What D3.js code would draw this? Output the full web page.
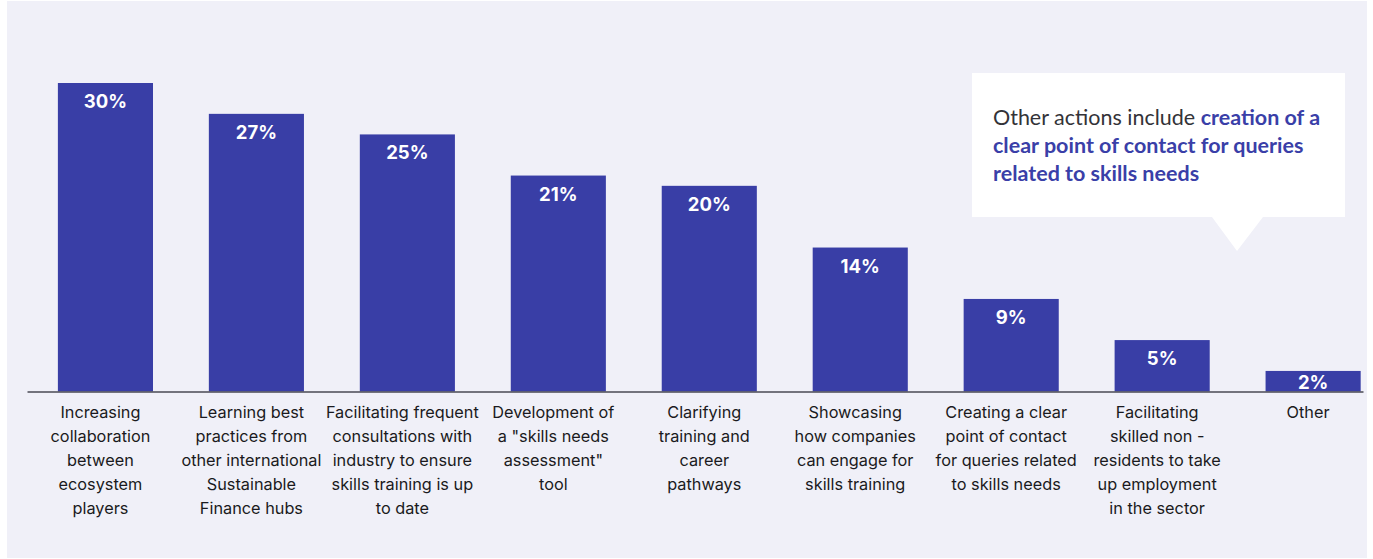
<!DOCTYPE html>
<html>
<head>
<meta charset="utf-8">
<script src="https://cdn.jsdelivr.net/npm/d3@7"></script>
<style>
  html, body { margin: 0; padding: 0; background: #ffffff; }
  svg { display: block; }
</style>
</head>
<body>
<svg id="chart" width="1373" height="559"></svg>
<script>
// Survey results: share of respondents choosing each action
const categories = [
  "Increasing\ncollaboration\nbetween\necosystem\nplayers",
  "Learning best\npractices from\nother international\nSustainable\nFinance hubs",
  "Facilitating frequent\nconsultations with\nindustry to ensure\nskills training is up\nto date",
  "Development of\na \"skills needs\nassessment\"\ntool",
  "Clarifying\ntraining and\ncareer\npathways",
  "Showcasing\nhow companies\ncan engage for\nskills training",
  "Creating a clear\npoint of contact\nfor queries related\nto skills needs",
  "Facilitating\nskilled non -\nresidents to take\nup employment\nin the sector",
  "Other"
];
const values = [30, 27, 25, 21, 20, 14, 9, 5, 2];

const noteRegular = "Other actions include ";
const noteBold = ["creation of a", "clear point of contact for queries", "related to skills needs"];

const BAR = "#393ea6";
const svg = d3.select("#chart");

// panel background
svg.append("rect")
  .attr("x", 7).attr("y", 1)
  .attr("width", 1360).attr("height", 557)
  .attr("fill", "#f0f0f8");

const baseline = 391.5;
const x = d3.scaleBand()
  .domain(categories)
  .range([27, 1363])
  .paddingInner(0.37)
  .paddingOuter(0.11)
  .align(0.93);

const y = d3.scaleLinear().domain([0, 30]).range([baseline, 83]);

// bars
svg.append("g").selectAll("rect")
  .data(values)
  .join("rect")
  .attr("x", (d, i) => x(categories[i]))
  .attr("y", d => y(d))
  .attr("width", x.bandwidth())
  .attr("height", d => baseline - y(d))
  .attr("fill", BAR);

// value labels inside the bars
svg.append("g").selectAll("text")
  .data(values)
  .join("text")
  .attr("x", (d, i) => x(categories[i]) + x.bandwidth() / 2)
  .attr("y", d => Math.min(y(d) + 25, baseline - 2.5))
  .attr("text-anchor", "middle")
  .attr("fill", "#ffffff")
  .attr("font-family", "Inter, 'Liberation Sans', sans-serif")
  .attr("font-weight", 700)
  .attr("font-size", 18.5)
  .text(d => d + "%");

// x axis line
const axis = d3.axisBottom(x).tickSize(0).tickFormat("");
svg.append("g")
  .attr("transform", `translate(0,${baseline})`)
  .call(axis)
  .call(g => g.select(".domain").attr("stroke", "#4a4a55").attr("stroke-width", 1.5));

// category labels, one tspan per line
const labelX = d => x(d) + x.bandwidth() / 2 - 5;
const labels = svg.append("g").selectAll("text")
  .data(categories)
  .join("text")
  .attr("x", labelX)
  .attr("y", 418)
  .attr("text-anchor", "middle")
  .attr("fill", "#1a1a20")
  .attr("font-family", "Inter, 'Noto Sans', sans-serif")
  .attr("font-size", 16.3);
labels.each(function (d) {
  const t = d3.select(this);
  d.split("\n").forEach((line, k) => {
    t.append("tspan")
      .attr("x", labelX(d))
      .attr("dy", k === 0 ? 0 : 24)
      .text(line);
  });
});

// callout box with pointer
const note = svg.append("g");
note.append("path")
  .attr("d", "M972,73 H1345 V217 H1263 L1237,251 L1212,217 H972 Z")
  .attr("fill", "#ffffff");
const nt = note.append("text")
  .attr("font-family", "Lato, 'Open Sans', sans-serif")
  .attr("font-size", 21.5)
  .attr("x", 993).attr("y", 125);
nt.append("tspan").attr("fill", "#333338").text(noteRegular);
nt.append("tspan").attr("fill", "#3a3fa8").attr("font-weight", 700).text(noteBold[0]);
noteBold.slice(1).forEach((line, k) => {
  nt.append("tspan")
    .attr("x", 993).attr("dy", 28)
    .attr("fill", "#3a3fa8").attr("font-weight", 700)
    .text(line);
});
</script>
</body>
</html>
